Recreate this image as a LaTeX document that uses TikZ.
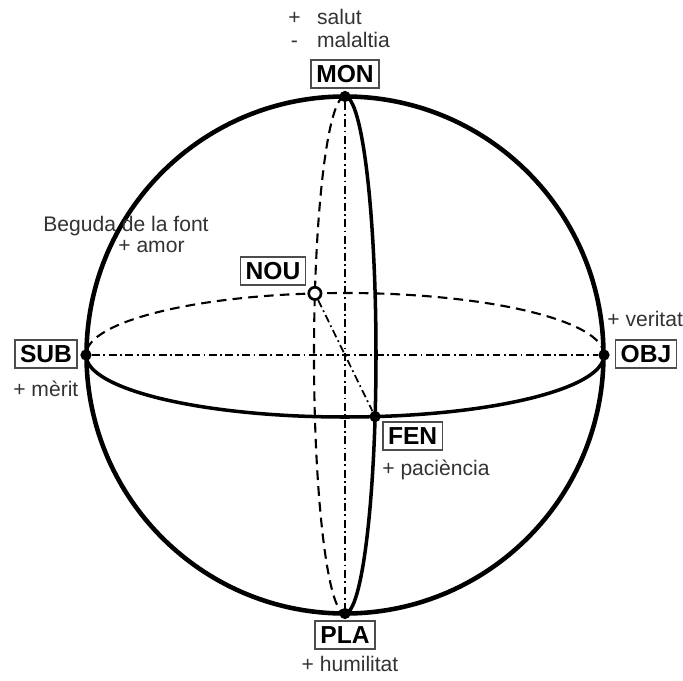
\documentclass[tikz,border=0pt]{standalone}
\usepackage{fontspec}
\setmainfont{Liberation Sans}
\begin{document}
\begin{tikzpicture}[x=0.02cm,y=0.02cm,
    tag/.style={draw=black!70,line width=0.9pt,font=\fontsize{14}{15}\selectfont\bfseries,
      inner xsep=3pt,inner ysep=2.8pt,text height=10.2pt,text depth=0pt},
    txt/.style={font=\fontsize{12}{13}\selectfont,text=black!80,inner sep=0pt,anchor=base west},
    pole/.style={circle,fill=black,inner sep=0pt,minimum size=6.4pt},
    back/.style={line width=1.2pt,dash pattern=on 5.5pt off 3.5pt},
    axis/.style={line width=1pt,dash pattern=on 4.5pt off 2pt on 1pt off 2pt}]
  \useasboundingbox (-345,-325) rectangle (338,355);

  % sphere
  \draw[line width=2.6pt] (0,0) circle (258.5);
  % equator (front solid, back dashed)
  \draw[line width=2pt] (-259,0) arc (180:360:259 and 62);
  \draw[back] (259,0) arc (0:180:259 and 62);
  % meridian (front solid, back dashed)
  \draw[line width=2pt] (0,-258.5) arc (-90:90:31 and 258.5);
  \draw[back] (0,258.5) arc (90:270:31 and 258.5);

  % points
  \node[pole] (mon) at (0,258.5) {};
  \node[pole] (pla) at (0,-258.5) {};
  \node[pole] (sub) at (-259,0) {};
  \node[pole] (obj) at (259,0) {};
  \node[pole] (fen) at (30.1,-61.6) {};
  \node[circle,draw,fill=white,line width=1.5pt,inner sep=0pt,minimum size=7pt] (nou) at (-30.1,61.6) {};

  % axes
  \draw[axis] (sub) -- (obj);
  \draw[axis] (mon) -- (pla);
  \draw[axis] (nou) -- (fen);

  % labels
  \node[tag] (monl) at (0,281) {MON};
  \node[tag] (plal) at (0,-280) {PLA};
  \node[tag] (subl) at (-299,1) {SUB};
  \node[tag] (objl) at (301,1) {OBJ};
  \node[tag] (noul) at (-72,84) {NOU};
  \node[tag,anchor=west] (fenl) at (37,-81) {FEN};

  \node[txt] (salut) at (-57,330) {\makebox[16.4pt][l]{+}salut};
  \node[txt] (malaltia) at (-57,307) {\makebox[16.4pt][l]{\makebox[6.9pt]{-}}malaltia};
  \node[txt] (beguda) at (-302,124) {Beguda de la font};
  \node[txt] (amor) at (-227,103) {+ amor};
  \node[txt] (merit) at (-332,-41) {+ mèrit};
  \node[txt] (veritat) at (262,29) {+ veritat};
  \node[txt] (paciencia) at (37,-120) {+ paciència};
  \node[txt,anchor=base] (humilitat) at (5,-316) {+ humilitat};
\end{tikzpicture}
\end{document}
